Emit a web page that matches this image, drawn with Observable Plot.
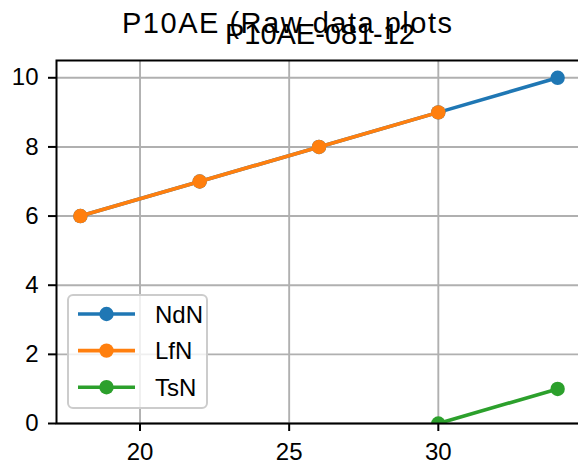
<!DOCTYPE html>
<html><head><meta charset="utf-8">
<script src="https://cdn.jsdelivr.net/npm/d3@7"></script>
<script src="https://cdn.jsdelivr.net/npm/@observablehq/plot@0.6"></script>
<style>html,body{margin:0;padding:0;background:#fff;} #chart{width:578px;height:470px;overflow:hidden;}</style>
</head><body><div id="chart"></div>
<script>
const seriesNames = ["NdN", "LfN", "TsN"];
const seriesColors = ["#1f77b4", "#ff7f0e", "#2ca02c"];
const ndnX = [18, 22, 26, 30, 34];
const ndnY = [6, 7, 8, 9, 10];
const lfnX = [18, 22, 26, 30];
const lfnY = [6, 7, 8, 9];
const tsnX = [30, 34];
const tsnY = [0, 1];
const xTicks = [20, 25, 30];
const yTicks = [0, 2, 4, 6, 8, 10];
const suptitle = "P10AE (Raw data plots";
const axTitle = "P10AE-081-12";

const seriesX = [ndnX, lfnX, tsnX];
const seriesY = [ndnY, lfnY, tsnY];
const rows = seriesNames.map((name, i) => seriesX[i].map((x, j) => ({series: name, x, y: seriesY[i][j]})));

const marks = [
  Plot.gridX(xTicks, {stroke: "#b0b0b0", strokeOpacity: 1, strokeWidth: 1.9}),
  Plot.gridY(yTicks, {stroke: "#b0b0b0", strokeOpacity: 1, strokeWidth: 1.9})
];
rows.forEach(d => {
  marks.push(Plot.line(d, {x: "x", y: "y", stroke: "series", strokeWidth: 3.6, clip: true}));
  marks.push(Plot.dot(d, {x: "x", y: "y", fill: "series", r: 7.2, clip: true}));
});
marks.push(Plot.frame({stroke: "black", strokeWidth: 2}));
marks.push(Plot.axisX(xTicks, {tickSize: 8, tickPadding: 11, strokeWidth: 2, label: null, fontSize: 24}));
marks.push(Plot.axisY(yTicks, {tickSize: 8, tickPadding: 10, strokeWidth: 2, label: null, fontSize: 24}));

const svg = Plot.plot({
  width: 578,
  height: 470,
  marginLeft: 56,
  marginRight: -3,
  marginTop: 60,
  marginBottom: 47,
  style: {fontFamily: "'Liberation Sans', Arial, sans-serif", fontSize: "24px", color: "black", background: "white"},
  x: {domain: [17.2, 34.8]},
  y: {domain: [0, 10.5]},
  color: {domain: seriesNames, range: seriesColors},
  marks
});
document.getElementById("chart").appendChild(svg);

const s = d3.select(svg);
// titles (they overlap in the reference too)
s.append("text").text(suptitle)
  .attr("x", 287).attr("y", 33).attr("text-anchor", "middle")
  .attr("font-size", 29).attr("fill", "black")
  .attr("textLength", 330).attr("lengthAdjust", "spacing");
s.append("text").text(axTitle)
  .attr("x", 320).attr("y", 44).attr("text-anchor", "middle")
  .attr("font-size", 29).attr("fill", "black")
  .attr("textLength", 190).attr("lengthAdjust", "spacing");

// legend
const lg = s.append("g");
lg.append("rect").attr("x", 68).attr("y", 295).attr("width", 139).attr("height", 113)
  .attr("rx", 5).attr("fill", "white").attr("fill-opacity", 0.8)
  .attr("stroke", "#cccccc").attr("stroke-width", 2);
seriesNames.forEach((name, i) => {
  const yy = 314 + i * 36.6;
  lg.append("line").attr("x1", 78).attr("x2", 135).attr("y1", yy).attr("y2", yy)
    .attr("stroke", seriesColors[i]).attr("stroke-width", 3.6);
  lg.append("circle").attr("cx", 106.5).attr("cy", yy).attr("r", 7.2).attr("fill", seriesColors[i]);
  lg.append("text").text(name).attr("x", 155).attr("y", yy).attr("dy", "0.36em")
    .attr("text-anchor", "start")
    .attr("font-size", 24).attr("fill", "black");
});
</script>
</body></html>
